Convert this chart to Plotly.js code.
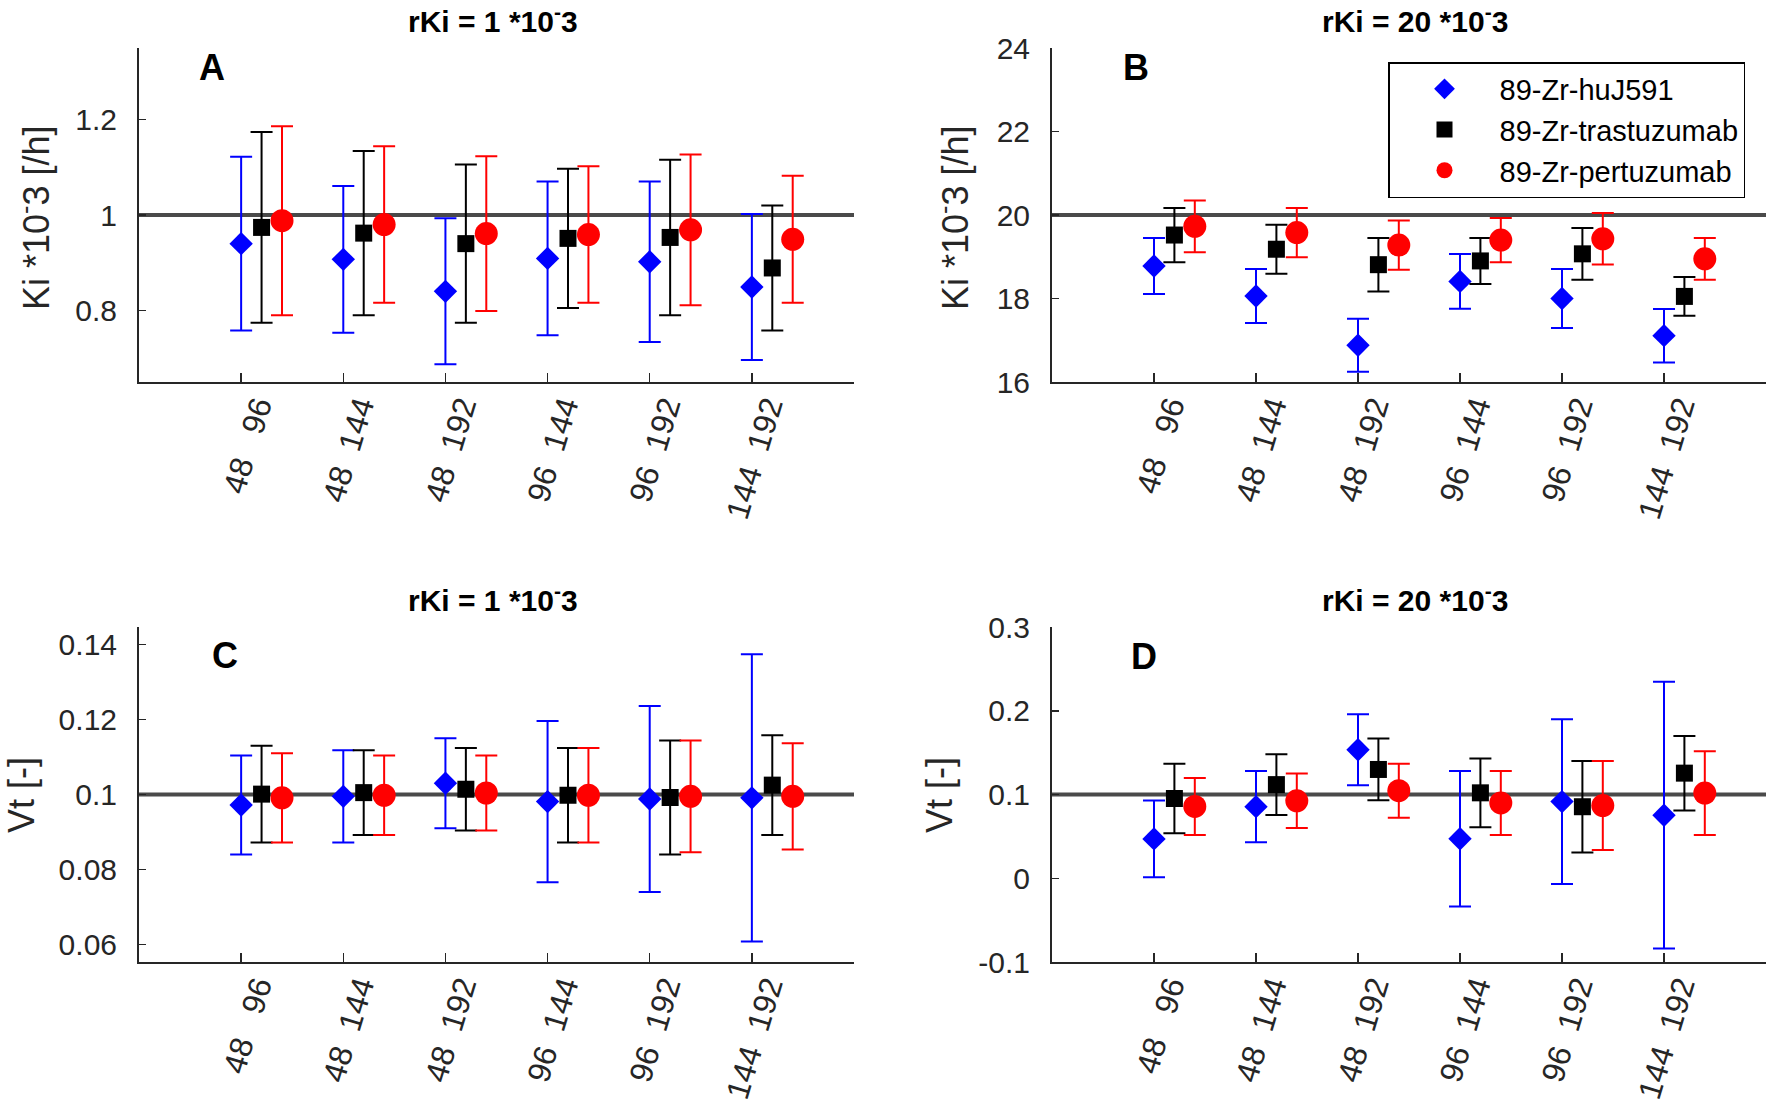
<!DOCTYPE html>
<html>
<head>
<meta charset="utf-8">
<script src="https://cdn.plot.ly/plotly-3.0.1.min.js"></script>
<style>
  body { margin: 0; background: #fff; }
  #chart { width: 1770px; height: 1102px; }
</style>
</head>
<body>
<div id="chart"></div>
<script>
// time-point pairs (h) compared in every panel
var groups = [1, 2, 3, 4, 5, 6];
var pairLabels = ['48   96', '48  144', '48  192', '96  144', '96  192', '144  192'];
var seriesNames = ['89-Zr-huJ591', '89-Zr-trastuzumab', '89-Zr-pertuzumab'];

// A: Ki, rKi = 1e-3
var kiA_huj = [0.940, 0.907, 0.840, 0.909, 0.902, 0.849];
var kiA_huj_err = [0.182, 0.154, 0.153, 0.161, 0.168, 0.153];
var kiA_tras = [0.974, 0.962, 0.940, 0.951, 0.953, 0.889];
var kiA_tras_err = [0.200, 0.172, 0.166, 0.146, 0.163, 0.131];
var kiA_pert = [0.988, 0.980, 0.961, 0.959, 0.969, 0.949];
var kiA_pert_err = [0.198, 0.164, 0.162, 0.143, 0.158, 0.133];

// B: Ki, rKi = 20e-3
var kiB_huj = [18.78, 18.06, 16.88, 18.41, 18.00, 17.11];
var kiB_huj_err = [0.67, 0.645, 0.635, 0.655, 0.705, 0.64];
var kiB_tras = [19.52, 19.18, 18.81, 18.90, 19.07, 18.05];
var kiB_tras_err = [0.65, 0.585, 0.64, 0.55, 0.62, 0.465];
var kiB_pert = [19.73, 19.58, 19.28, 19.40, 19.43, 18.95];
var kiB_pert_err = [0.62, 0.59, 0.59, 0.53, 0.615, 0.50];

// C: Vt, rKi = 1e-3
var vtC_huj = [0.0972, 0.0995, 0.1030, 0.0981, 0.0988, 0.0991];
var vtC_huj_err = [0.0132, 0.0123, 0.0120, 0.0215, 0.0248, 0.0383];
var vtC_tras = [0.1001, 0.1005, 0.1014, 0.0998, 0.0992, 0.1025];
var vtC_tras_err = [0.0129, 0.0113, 0.0110, 0.0126, 0.0152, 0.0133];
var vtC_pert = [0.0991, 0.0998, 0.1004, 0.0998, 0.0995, 0.0995];
var vtC_pert_err = [0.0119, 0.0106, 0.0100, 0.0126, 0.0149, 0.0142];

// D: Vt, rKi = 20e-3
var vtD_huj = [0.0470, 0.0855, 0.1534, 0.0472, 0.0915, 0.0753];
var vtD_huj_err = [0.0459, 0.0426, 0.0424, 0.0808, 0.0985, 0.1593];
var vtD_tras = [0.0952, 0.1118, 0.1299, 0.1020, 0.0854, 0.1255];
var vtD_tras_err = [0.0414, 0.0362, 0.0369, 0.0410, 0.0547, 0.0445];
var vtD_pert = [0.0857, 0.0925, 0.1045, 0.0899, 0.0868, 0.1017];
var vtD_pert_err = [0.0340, 0.0325, 0.0322, 0.0382, 0.0532, 0.0500];

// true values (horizontal reference lines)
var trueKiA = 1, trueKiB = 20, trueVt = 0.1;

var yTicksA = [0.8, 1, 1.2], yTickTextA = ['0.8', '1', '1.2'];
var yTicksB = [16, 18, 20, 22, 24], yTickTextB = ['16', '18', '20', '22', '24'];
var yTicksC = [0.06, 0.08, 0.1, 0.12, 0.14], yTickTextC = ['0.06', '0.08', '0.1', '0.12', '0.14'];
var yTicksD = [-0.1, 0, 0.1, 0.2, 0.3], yTickTextD = ['-0.1', '0', '0.1', '0.2', '0.3'];

var colors = ['#0000ff', '#000000', '#ff0000'];
var symbols = ['diamond', 'square', 'circle'];
var sizes = [18, 17, 23];
var offsets = [0, 0.2, 0.4];
var FONT = 'Liberation Sans, Arial, sans-serif';
var AX = '#262626';

function nbsp(s) { return s.replace(/ /g, '\u00a0'); }

function series(k, ys, errs, xa, ya, legend) {
  return {
    x: groups.map(function (g) { return g + offsets[k]; }),
    y: ys,
    name: seriesNames[k],
    type: 'scatter',
    mode: 'markers',
    xaxis: xa,
    yaxis: ya,
    showlegend: legend,
    marker: { symbol: symbols[k], size: sizes[k], color: colors[k], line: { width: 0 } },
    error_y: { type: 'data', array: errs, visible: true, color: colors[k], thickness: 2, width: 11 }
  };
}

var data = [
  series(0, kiA_huj, kiA_huj_err, 'x', 'y', false),
  series(1, kiA_tras, kiA_tras_err, 'x', 'y', false),
  series(2, kiA_pert, kiA_pert_err, 'x', 'y', false),
  series(0, kiB_huj, kiB_huj_err, 'x2', 'y2', true),
  series(1, kiB_tras, kiB_tras_err, 'x2', 'y2', true),
  series(2, kiB_pert, kiB_pert_err, 'x2', 'y2', true),
  series(0, vtC_huj, vtC_huj_err, 'x3', 'y3', false),
  series(1, vtC_tras, vtC_tras_err, 'x3', 'y3', false),
  series(2, vtC_pert, vtC_pert_err, 'x3', 'y3', false),
  series(0, vtD_huj, vtD_huj_err, 'x4', 'y4', false),
  series(1, vtD_tras, vtD_tras_err, 'x4', 'y4', false),
  series(2, vtD_pert, vtD_pert_err, 'x4', 'y4', false)
];

function xAxis(dom, anchor) {
  return {
    domain: dom, anchor: anchor, range: [0, 7],
    tickvals: groups, ticktext: pairLabels.map(nbsp), tickangle: -73,
    ticks: 'inside', ticklen: 9, tickwidth: 1.5, tickcolor: AX,
    showline: true, linecolor: AX, linewidth: 2,
    showgrid: false, zeroline: false,
    ticklabelstandoff: -9, ticklabelshift: 16,
    tickfont: { family: FONT, size: 32, color: AX }
  };
}

function yAxis(dom, anchor, range, vals, text) {
  return {
    domain: dom, anchor: anchor, range: range,
    tickvals: vals, ticktext: text,
    ticks: 'inside', ticklen: 7, tickwidth: 1.5, tickcolor: AX,
    showline: true, linecolor: AX, linewidth: 2,
    showgrid: false, zeroline: false,
    ticklabelstandoff: 14,
    tickfont: { family: FONT, size: 30, color: AX }
  };
}

var W = 1770, H = 1102;
var colL = [139 / W, 854 / W], colR = [1052 / W, 1766 / W];
var rowT = [1 - 382 / H, 1 - 48 / H], rowB = [1 - 962 / H, 1 - 627 / H];

function refLine(xa, ya, v) {
  return { type: 'line', xref: xa, yref: ya, x0: 0, x1: 7, y0: v, y1: v,
           layer: 'below', line: { color: '#4a4a4a', width: 4 } };
}

function txt(x, y, s, size, bold, angle) {
  return { xref: 'paper', yref: 'paper', x: x / W, y: 1 - y / H, text: bold ? '<b>' + s + '</b>' : s,
           showarrow: false, xanchor: 'center', yanchor: 'middle', textangle: angle || 0,
           font: { family: FONT, size: size, color: bold ? '#000' : AX } };
}

var layout = {
  width: W, height: H,
  margin: { l: 0, r: 0, t: 0, b: 0, autoexpand: false },
  paper_bgcolor: '#fff', plot_bgcolor: '#fff',
  font: { family: FONT, color: AX },
  xaxis: xAxis(colL, 'y'),
  yaxis: yAxis(rowT, 'x', [0.65, 1.35], yTicksA, yTickTextA),
  xaxis2: xAxis(colR, 'y2'),
  yaxis2: yAxis(rowT, 'x2', [16, 24], yTicksB, yTickTextB),
  xaxis3: xAxis(colL, 'y3'),
  yaxis3: yAxis(rowB, 'x3', [0.0553, 0.1447], yTicksC, yTickTextC),
  xaxis4: xAxis(colR, 'y4'),
  yaxis4: yAxis(rowB, 'x4', [-0.1, 0.3], yTicksD, yTickTextD),
  shapes: [
    refLine('x', 'y', trueKiA),
    refLine('x2', 'y2', trueKiB),
    refLine('x3', 'y3', trueVt),
    refLine('x4', 'y4', trueVt)
  ],
  annotations: [
    txt(493, 19, 'rKi = 1 *10<sup>-</sup>3', 30, true),
    txt(1415, 19, 'rKi = 20 *10<sup>-</sup>3', 30, true),
    txt(493, 598, 'rKi = 1 *10<sup>-</sup>3', 30, true),
    txt(1415, 598, 'rKi = 20 *10<sup>-</sup>3', 30, true),
    txt(212, 67, 'A', 36, true),
    txt(1136, 68, 'B', 36, true),
    txt(225, 655, 'C', 36, true),
    txt(1144, 657, 'D', 36, true),
    txt(34, 218, 'Ki *10<sup>-</sup>3 [/h]', 36, false, -90),
    txt(953, 218, 'Ki *10<sup>-</sup>3 [/h]', 36, false, -90),
    txt(21, 795, 'Vt [-]', 36, false, -90),
    txt(939, 795, 'Vt [-]', 36, false, -90)
  ],
  legend: {
    x: 1388 / W, y: 1 - 62 / H, xanchor: 'left', yanchor: 'top',
    bgcolor: '#fff', bordercolor: '#000', borderwidth: 1.5,
    itemwidth: 100, itemsizing: 'trace',
    font: { family: FONT, size: 29, color: '#000' }
  }
};

Plotly.newPlot('chart', data, layout, { displayModeBar: false, staticPlot: true });
</script>
</body>
</html>
